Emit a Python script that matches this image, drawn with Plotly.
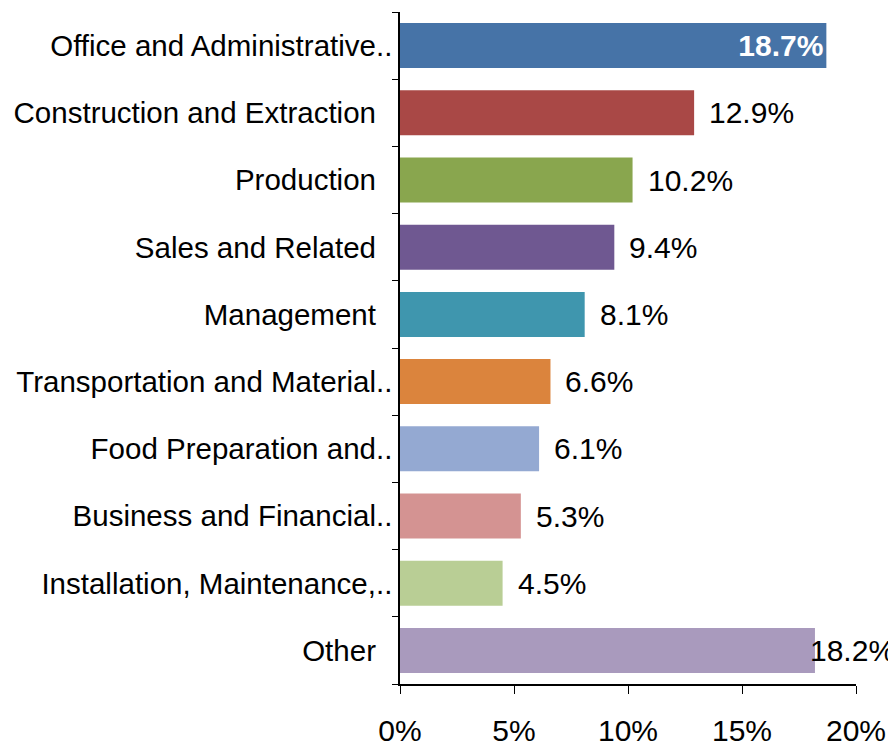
import plotly.graph_objects as go

categorias = ["Office and Administrative..", "Construction and Extraction", "Production",
              "Sales and Related", "Management", "Transportation and Material..",
              "Food Preparation and..", "Business and Financial..",
              "Installation, Maintenance,..", "Other"]
valores = [18.7, 12.9, 10.2, 9.4, 8.1, 6.6, 6.1, 5.3, 4.5, 18.2]
cores = ["#4673A7", "#A94846", "#89A64E", "#6F5891", "#3F96AE",
         "#DB843D", "#94A9D2", "#D49392", "#B9CE95", "#A99ABD"]
tick_x = [0, 5, 10, 15, 20]
tick_txt = ["0%", "5%", "10%", "15%", "20%"]

fonte = "Liberation Sans, Arial, sans-serif"

# rótulos sem ".." ficam um pouco afastados do eixo, como no Excel
rotulos_y = [c if c.endswith("..") else c + "\u00a0\u00a0" for c in categorias]

# primeira barra: rótulo branco dentro da barra
textos = [f"{valores[0]:.1f}%"] + [""] * (len(valores) - 1)

fig = go.Figure(go.Bar(
    x=valores, y=categorias, orientation="h",
    marker=dict(color=cores, line=dict(width=0)),
    text=textos,
    textposition="inside",
    insidetextanchor="end",
    insidetextfont=dict(family=fonte, size=30, color="white", weight="bold"),
    constraintext="none",
    cliponaxis=False,
))

# demais rótulos fora da barra (o último encosta na borda, entra um pouco na barra)
for i in range(1, len(valores)):
    desloc = -7 if i == len(valores) - 1 else 13
    fig.add_annotation(x=valores[i], y=categorias[i], text=f"{valores[i]:.1f}%",
                       showarrow=False, xanchor="left", xshift=desloc,
                       font=dict(family=fonte, size=30, color="black"))

fig.update_layout(
    width=896, height=747,
    margin=dict(l=392, r=48, t=4, b=71),
    plot_bgcolor="white", paper_bgcolor="white",
    bargap=0.33,
    showlegend=False,
    font=dict(family=fonte, size=29.5, color="black"),
)

fig.update_yaxes(autorange="reversed", showline=True, linecolor="black", linewidth=1.5,
                 tickvals=categorias, ticktext=rotulos_y,
                 ticks="outside", tickson="boundaries", ticklen=6, tickcolor="black",
                 ticklabelstandoff=0, showgrid=False, automargin=False)
fig.update_xaxes(range=[0, 20], tickvals=tick_x, ticktext=tick_txt, showline=True,
                 linecolor="black", linewidth=1.5, ticks="outside", ticklen=8,
                 tickcolor="black", ticklabelstandoff=11, showgrid=False, zeroline=False,
                 automargin=False, tickfont=dict(size=30))

fig.write_html("out.html")
